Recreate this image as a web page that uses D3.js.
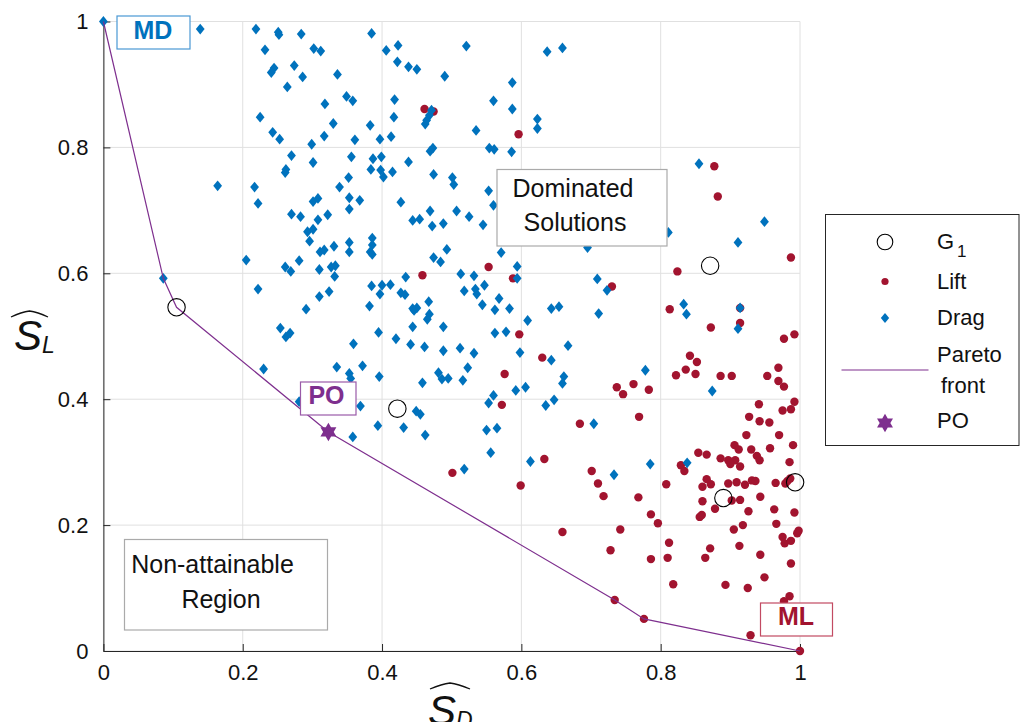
<!DOCTYPE html>
<meta charset="utf-8">
<style>
body { margin: 0; background: #fff; }
text { font-family: "Liberation Sans", Arial, sans-serif; }
</style>
<script src="https://cdn.jsdelivr.net/npm/d3@7"></script>
<svg id="chart" width="1021" height="722"></svg>
<script>

// tick values on both axes
const ticks = [0, 0.2, 0.4, 0.6, 0.8, 1];

// drag-optimised samples [S_D, S_L]
const dragPoints = [
  [0.000,1.000],[0.139,0.988],[0.219,0.988],[0.251,0.983],[0.252,0.979],[0.284,0.980],[0.232,0.955],
  [0.302,0.957],[0.312,0.953],[0.274,0.930],[0.245,0.926],[0.241,0.919],[0.286,0.912],[0.336,0.916],
  [0.264,0.896],[0.349,0.881],[0.358,0.874],[0.318,0.869],[0.225,0.848],[0.330,0.838],[0.243,0.824],
  [0.253,0.813],[0.317,0.818],[0.361,0.812],[0.299,0.805],[0.270,0.787],[0.301,0.776],[0.356,0.785],
  [0.262,0.765],[0.261,0.760],[0.164,0.739],[0.217,0.737],[0.339,0.737],[0.352,0.752],[0.222,0.711],
  [0.301,0.714],[0.308,0.719],[0.353,0.720],[0.353,0.702],[0.270,0.694],[0.283,0.690],[0.308,0.685],
  [0.322,0.693],[0.293,0.666],[0.301,0.670],[0.296,0.651],[0.331,0.643],[0.311,0.634],[0.317,0.637],
  [0.353,0.649],[0.353,0.634],[0.205,0.621],[0.261,0.610],[0.269,0.603],[0.281,0.620],[0.310,0.606],
  [0.327,0.610],[0.333,0.612],[0.332,0.595],[0.086,0.592],[0.222,0.575],[0.310,0.563],[0.324,0.571],
  [0.291,0.543],[0.254,0.513],[0.262,0.499],[0.268,0.505],[0.359,0.488],[0.230,0.448],[0.335,0.451],
  [0.353,0.441],[0.355,0.433],[0.281,0.396],
  [0.385,0.981],[0.406,0.954],[0.423,0.962],[0.422,0.936],[0.438,0.928],[0.450,0.924],[0.521,0.961],
  [0.490,0.913],[0.587,0.903],[0.637,0.952],[0.659,0.958],[0.418,0.876],[0.560,0.874],[0.587,0.861],
  [0.623,0.845],[0.623,0.830],[0.417,0.848],[0.383,0.835],[0.471,0.859],[0.468,0.851],[0.464,0.843],
  [0.462,0.837],[0.535,0.827],[0.397,0.813],[0.413,0.817],[0.387,0.782],[0.399,0.785],[0.469,0.794],
  [0.473,0.799],[0.554,0.799],[0.561,0.797],[0.586,0.793],[0.438,0.777],[0.384,0.765],[0.398,0.764],
  [0.402,0.753],[0.415,0.761],[0.474,0.757],[0.501,0.752],[0.503,0.741],[0.553,0.731],[0.368,0.716],
  [0.427,0.713],[0.469,0.699],[0.444,0.684],[0.454,0.686],[0.472,0.675],[0.488,0.679],[0.507,0.699],
  [0.525,0.690],[0.545,0.677],[0.560,0.708],
  [0.386,0.656],[0.386,0.645],[0.383,0.634],[0.386,0.630],[0.493,0.638],[0.571,0.633],[0.474,0.625],
  [0.484,0.618],[0.594,0.611],[0.594,0.592],[0.513,0.599],[0.532,0.596],[0.547,0.581],[0.434,0.594],
  [0.385,0.580],[0.400,0.581],[0.397,0.567],[0.412,0.582],[0.427,0.569],[0.433,0.566],[0.518,0.572],
  [0.534,0.575],[0.536,0.567],[0.568,0.560],[0.467,0.555],[0.382,0.548],[0.544,0.550],[0.583,0.544],
  [0.562,0.542],[0.444,0.544],[0.450,0.545],[0.446,0.541],[0.468,0.535],[0.465,0.527],[0.643,0.544],
  [0.654,0.547],[0.609,0.525],[0.444,0.515],[0.488,0.515],[0.395,0.506],[0.562,0.505],[0.578,0.507],
  [0.420,0.496],[0.441,0.487],[0.461,0.483],[0.488,0.477],[0.512,0.481],[0.532,0.473],[0.598,0.474],
  [0.643,0.462],[0.667,0.485],[0.372,0.453],[0.396,0.436],[0.523,0.450],[0.481,0.442],[0.486,0.432],
  [0.495,0.433],[0.516,0.430],[0.458,0.426],[0.661,0.436],[0.659,0.425],[0.592,0.414],[0.606,0.419],
  [0.560,0.406],[0.553,0.394],[0.647,0.399],[0.635,0.390],[0.369,0.389],[0.449,0.381],[0.455,0.376],
  [0.394,0.358],[0.431,0.355],[0.358,0.340],[0.462,0.343],[0.550,0.351],[0.565,0.354],
  [0.556,0.315],[0.518,0.289],[0.613,0.301],[0.704,0.361],[0.838,0.299],[0.785,0.297],[0.733,0.280],
  [0.695,0.641],[0.811,0.665],[0.949,0.682],[0.911,0.649],[0.709,0.591],[0.723,0.573],[0.711,0.536],
  [0.833,0.551],[0.837,0.535],[0.914,0.545],[0.911,0.512],[0.778,0.446],[0.874,0.413],[0.855,0.774]
];

// lift-optimised samples [S_D, S_L]
const liftPoints = [
  [0.461,0.861],[0.474,0.857],[0.596,0.821],[0.553,0.610],[0.458,0.597],[0.588,0.592],[0.597,0.503],
  [0.630,0.466],[0.576,0.440],[0.572,0.391],[0.684,0.361],[0.501,0.283],[0.633,0.305],[0.599,0.263],
  [0.659,0.189],[0.877,0.770],[0.882,0.722],
  [0.987,0.625],[0.824,0.603],[0.730,0.579],[0.813,0.543],[0.914,0.545],[0.914,0.521],[0.872,0.514],
  [0.977,0.496],[0.992,0.503],[0.842,0.469],[0.852,0.459],[0.836,0.447],[0.850,0.440],[0.822,0.438],
  [0.886,0.437],[0.902,0.437],[0.953,0.437],[0.969,0.450],[0.969,0.429],[0.977,0.420],[0.737,0.419],
  [0.746,0.408],[0.761,0.424],[0.783,0.415],[0.941,0.392],[0.927,0.372],[0.942,0.365],[0.956,0.363],
  [0.975,0.382],[0.987,0.384],[0.992,0.396],[0.769,0.372],
  [0.923,0.343],[0.970,0.343],[0.990,0.327],[0.906,0.327],[0.912,0.320],[0.930,0.320],[0.957,0.322],
  [0.854,0.315],[0.866,0.312],[0.938,0.310],[0.942,0.303],[0.886,0.306],[0.897,0.303],[0.907,0.303],
  [0.900,0.297],[0.914,0.293],[0.985,0.300],[0.829,0.295],[0.834,0.286],[0.701,0.286],[0.710,0.266],
  [0.718,0.246],[0.768,0.244],[0.808,0.265],[0.866,0.273],[0.872,0.265],[0.860,0.261],[0.897,0.266],
  [0.909,0.268],[0.921,0.264],[0.931,0.271],[0.936,0.270],[0.965,0.267],[0.979,0.266],[0.982,0.270],
  [0.986,0.274],[0.860,0.238],[0.902,0.239],[0.914,0.240],[0.943,0.245],[0.878,0.226],[0.926,0.222],
  [0.856,0.213],[0.859,0.216],[0.963,0.225],[0.992,0.220],[0.786,0.217],[0.796,0.203],[0.918,0.200],
  [0.905,0.193],[0.966,0.202],[0.996,0.187],[0.998,0.191],[0.742,0.193],[0.975,0.181],[0.978,0.171],
  [0.987,0.175],[0.812,0.172],[0.728,0.160],[0.871,0.163],[0.913,0.167],[0.864,0.148],[0.786,0.146],
  [0.810,0.148],[0.943,0.153],[0.987,0.139],[0.818,0.106],[0.893,0.105],[0.925,0.100],[0.949,0.117],
  [0.985,0.087],[0.734,0.081],[0.776,0.051],[0.929,0.025],[1.000,0.000],[0.977,0.079]
];

// G1 generation
const g1Points = [[0.105,0.546],[0.422,0.385],[0.871,0.612],[0.890,0.243],[0.993,0.268]];

// pareto front vertices
const paretoFront = [[0,1],[0.086,0.592],[0.105,0.546],[0.323,0.348],[0.734,0.081],[0.776,0.051],[1,0]];

const poPoint = [0.323, 0.348];

const colDrag = "#0072BD", colLift = "#A2142F", colPO = "#7E2F8E";

const svg = d3.select("#chart");

let x = d3.scaleLinear().domain([0, 1]).range([103.4, 800]),
    y = d3.scaleLinear().domain([0, 1]).range([651, 21.5]);

// custom markers
const diamond = {
  draw: function(ctx, size) {
    let r = Math.sqrt(size);
    ctx.moveTo(0, -r * 0.54);
    ctx.lineTo(r * 0.44, 0);
    ctx.lineTo(0, r * 0.54);
    ctx.lineTo(-r * 0.44, 0);
    ctx.closePath();
  }
};
const hexagram = {
  draw: function(ctx, size) {
    let R = Math.sqrt(size);
    [-90, 90].forEach(function(start) {
      for (let k = 0; k < 3; k++) {
        let a = (start + 120 * k) * Math.PI / 180;
        if (k == 0) ctx.moveTo(R * Math.cos(a), R * Math.sin(a));
        else ctx.lineTo(R * Math.cos(a), R * Math.sin(a));
      }
      ctx.closePath();
    });
  }
};

// grid
svg.append("g").selectAll("line")
    .data(ticks)
    .join("line")
    .attr("x1", d => x(d)).attr("x2", d => x(d))
    .attr("y1", y(0)).attr("y2", y(1))
    .attr("stroke", "#e0e0e0");
svg.append("g").selectAll("line")
    .data(ticks)
    .join("line")
    .attr("x1", x(0)).attr("x2", x(1))
    .attr("y1", d => y(d)).attr("y2", d => y(d))
    .attr("stroke", "#e0e0e0");

// axes
let xAxis = svg.append("g")
    .attr("transform", "translate(0," + y(0) + ")")
    .call(d3.axisBottom(x).tickValues(ticks).tickFormat(d => String(d))
        .tickSizeInner(-7).tickSizeOuter(0).tickPadding(13));
let yAxis = svg.append("g")
    .attr("transform", "translate(" + x(0) + ",0)")
    .call(d3.axisLeft(y).tickValues(ticks).tickFormat(d => String(d))
        .tickSizeInner(-7).tickSizeOuter(0).tickPadding(15));
[xAxis, yAxis].forEach(function(a) {
  a.select(".domain").attr("stroke", "#262626");
  a.selectAll(".tick line").attr("stroke", "#262626");
  a.selectAll(".tick text")
    .attr("font-family", "Liberation Sans, Arial, sans-serif")
    .attr("font-size", "22px")
    .attr("fill", "#111");
});

// lift points
svg.append("g").selectAll("circle")
    .data(liftPoints)
    .join("circle")
    .attr("cx", d => x(d[0]))
    .attr("cy", d => y(d[1]))
    .attr("r", 4.2)
    .attr("fill", colLift);

// drag points
svg.append("g").selectAll("path")
    .data(dragPoints)
    .join("path")
    .attr("transform", d => "translate(" + x(d[0]) + "," + y(d[1]) + ")")
    .attr("d", d3.symbol().type(diamond).size(100))
    .attr("fill", colDrag);

// pareto front
svg.append("path")
    .datum(paretoFront)
    .attr("d", d3.line().x(d => x(d[0])).y(d => y(d[1])))
    .attr("fill", "none")
    .attr("stroke", colPO)
    .attr("stroke-width", 1.2);

// G1
svg.append("g").selectAll("circle")
    .data(g1Points)
    .join("circle")
    .attr("cx", d => x(d[0]))
    .attr("cy", d => y(d[1]))
    .attr("r", 8.7)
    .attr("fill", "none")
    .attr("stroke", "#000")
    .attr("stroke-width", 1.1);

// PO star
svg.append("path")
    .attr("transform", "translate(" + x(poPoint[0]) + "," + y(poPoint[1]) + ")")
    .attr("d", d3.symbol().type(hexagram).size(85))
    .attr("fill", colPO);

// labelled boxes
function tagBox(bx, by, w, h, label, color, border, tx, ty) {
  svg.append("rect").attr("x", bx).attr("y", by).attr("width", w).attr("height", h)
      .attr("fill", "#fff").attr("stroke", border).attr("stroke-width", 1.2);
  svg.append("text").attr("x", tx).attr("y", ty).attr("text-anchor", "middle")
      .attr("font-size", "25px").attr("font-weight", "bold").attr("fill", color).text(label);
}
tagBox(117, 16, 73, 33, "MD", colDrag, "#4a98d4", 153, 38.5);
tagBox(300.5, 382, 55.5, 33, "PO", colPO, "#9a5aa8", 326.5, 404);
tagBox(760.5, 603, 72, 33, "ML", colLift, "#c24a62", 796, 625);

function noteBox(bx, by, w, h, lines) {
  svg.append("rect").attr("x", bx).attr("y", by).attr("width", w).attr("height", h)
      .attr("fill", "#fff").attr("stroke", "#aaa").attr("stroke-width", 1.2);
  lines.forEach(function(l) {
    svg.append("text").attr("x", l[1]).attr("y", l[2]).attr("text-anchor", "middle")
        .attr("font-size", "25px").attr("fill", "#111").text(l[0]);
  });
}
noteBox(497, 169.5, 170, 76.5, [["Dominated", 573, 197], ["Solutions", 575, 231]]);
noteBox(124.5, 539.5, 203, 90.5, [["Non-attainable", 212.5, 573], ["Region", 221, 608]]);

// axis labels with wide hats
function hatLabel(sx, sy, sub, hx0, hx1, hy) {
  let t = svg.append("text").attr("x", sx).attr("y", sy)
      .attr("font-family", "Liberation Serif, Times New Roman, serif")
      .attr("font-style", "italic").attr("font-size", "42px").attr("fill", "#111");
  t.append("tspan").text("S");
  t.append("tspan").attr("font-size", "23px").attr("dy", "3").text(sub);
  let mid = (hx0 + hx1) / 2;
  svg.append("path")
      .attr("d", "M" + hx0 + "," + (hy + 6) + "Q" + (mid - 8) + "," + (hy + 1) + " " + mid + "," + hy +
                 "Q" + (mid + 8) + "," + (hy + 1) + " " + hx1 + "," + (hy + 6))
      .attr("fill", "none").attr("stroke", "#111").attr("stroke-width", 1.3);
}
hatLabel(14, 350, "L", 11, 48, 311);
hatLabel(428, 725, "D", 430, 470, 683);

// legend
let lg = svg.append("g");
lg.append("rect").attr("x", 825.5).attr("y", 214.5).attr("width", 193.5).attr("height", 231)
    .attr("fill", "#fff").attr("stroke", "#262626").attr("stroke-width", 1);
lg.append("circle").attr("cx", 885).attr("cy", 242).attr("r", 7.8)
    .attr("fill", "none").attr("stroke", "#000").attr("stroke-width", 1.1);
lg.append("circle").attr("cx", 885).attr("cy", 281.5).attr("r", 3.6).attr("fill", colLift);
lg.append("path").attr("transform", "translate(885,318)")
    .attr("d", d3.symbol().type(diamond).size(90)).attr("fill", colDrag);
lg.append("line").attr("x1", 841.5).attr("x2", 928.5).attr("y1", 370).attr("y2", 370)
    .attr("stroke", colPO).attr("stroke-width", 1.2);
lg.append("path").attr("transform", "translate(885,423)")
    .attr("d", d3.symbol().type(hexagram).size(85)).attr("fill", colPO);

let legText = [["G", 937, 249], ["Lift", 937, 289], ["Drag", 937, 325], ["Pareto", 937, 362], ["front", 941, 393], ["PO", 937, 428]];
legText.forEach(function(l) {
  lg.append("text").attr("x", l[1]).attr("y", l[2]).attr("font-size", "22px").attr("fill", "#111").text(l[0]);
});
lg.append("text").attr("x", 957).attr("y", 257).attr("font-size", "17px").attr("fill", "#111").text("1");

</script>
